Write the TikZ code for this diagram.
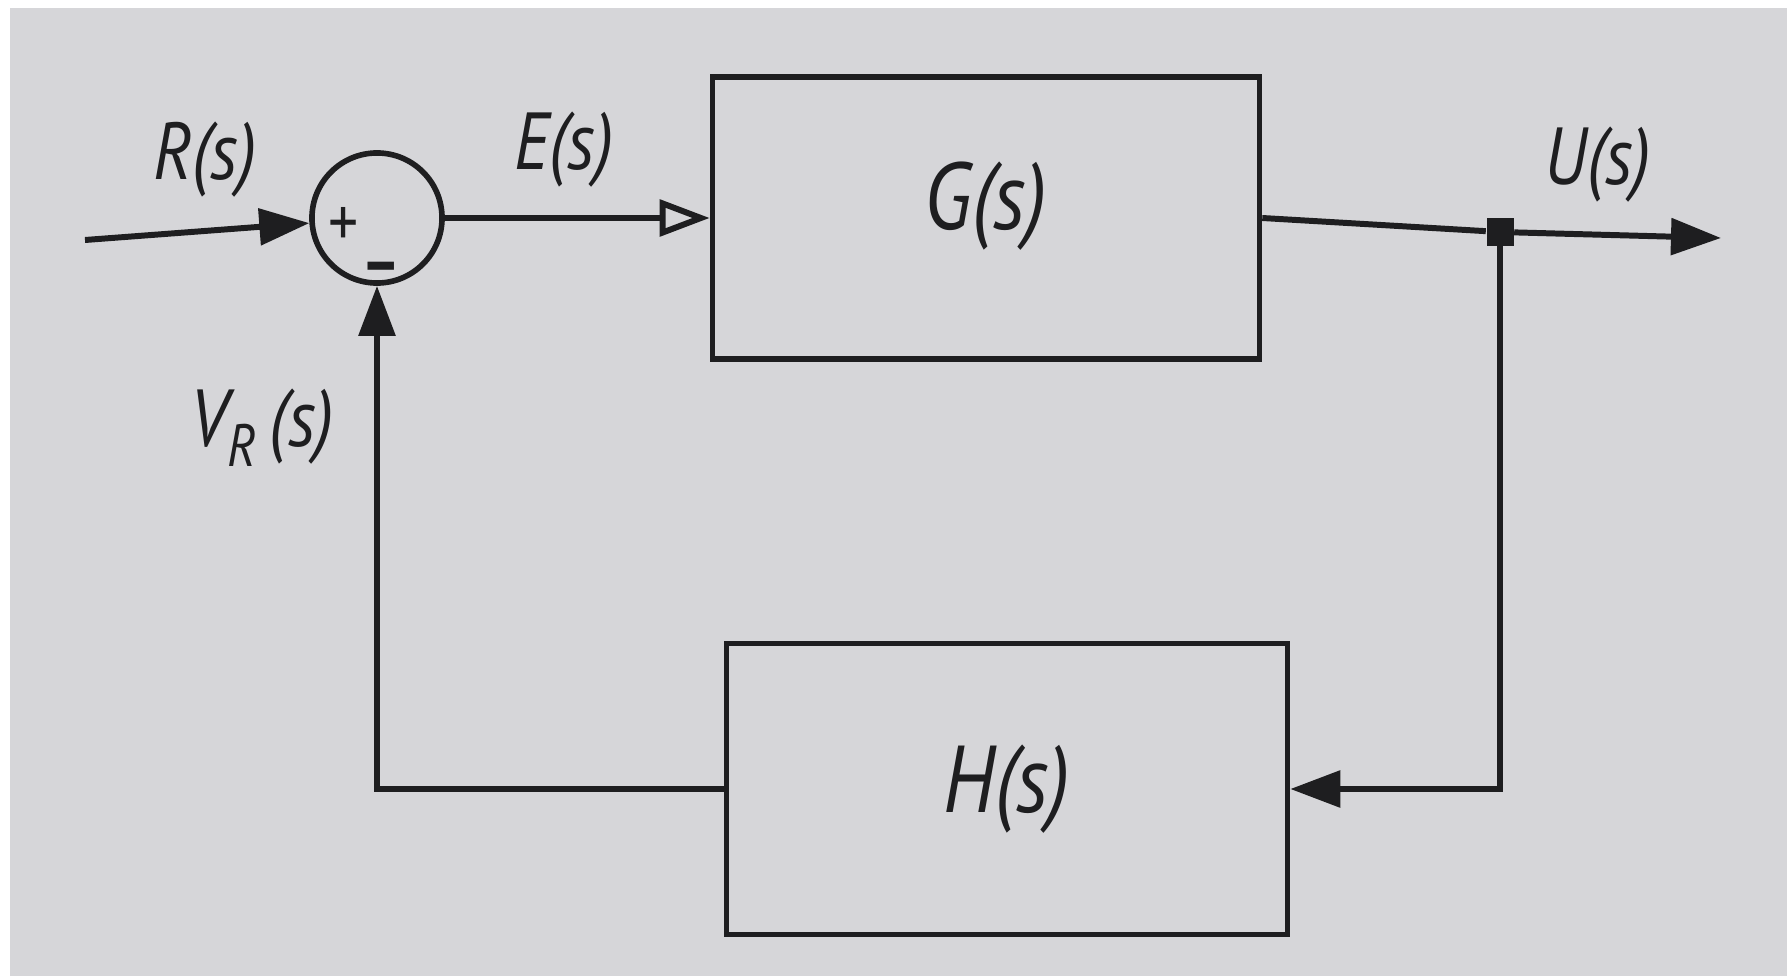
\documentclass[tikz,border=0pt]{standalone}
\usepackage{fontspec}
\usepackage{tikz}
\usetikzlibrary{shapes,arrows.meta,positioning}
\newfontfamily\lblfont{PT Sans}[FakeStretch=0.85]
\definecolor{paper}{RGB}{214,214,217}
\definecolor{ink}{RGB}{30,30,32}

\begin{document}
\begin{tikzpicture}[x=0.01cm, y=-0.01cm,
  block/.style={draw=ink, line width=1.5pt, minimum width=5.47cm, minimum height=2.82cm, text=ink, font=\lblfont\itshape\fontsize{27}{27}\selectfont},
  sumnode/.style={draw=ink, circle, line width=1.6pt, minimum size=1.3cm, inner sep=0pt},
  lbl/.style={text=ink, font=\lblfont\itshape\fontsize{23}{23}\selectfont},
  sign/.style={text=ink, inner sep=0pt, font=\lblfont\fontsize{20}{20}\selectfont},
  line/.style={draw=ink, line width=1.7pt},
  >={Triangle[length=0.5cm,width=0.36cm]}]
\fill[white] (0,0) rectangle (1787,976);
\fill[paper] (10,8) rectangle (1787,976);
\useasboundingbox (0,0) rectangle (1787,976);

% blocks
\node[sumnode] (sum) at (377,218) {};
\node[block] (g) at (986,218) {\raisebox{0.12cm}[\height][\depth]{G(s)}};
\node[block, minimum width=5.61cm, minimum height=2.91cm] (h) at (1007,789) {H(s)};
\node[fill=ink, minimum size=0.27cm, inner sep=0pt] (junc) at (1500,232) {};
\coordinate (in) at (85,240);
\coordinate (out) at (1721,238);
\coordinate (rc) at (1500,789);
\coordinate (lc) at (377,789);

% signs
\node[sign] (plus) at (344,227) {+};
\node[sign, font=\lblfont\bfseries\fontsize{20}{20}\selectfont] (minus) at (381,274) {–};

% labels
\node[lbl] (rlbl) at (205,160) {R(s)};
\node[lbl] (elbl) at (564,150) {E(s)};
\node[lbl] (ulbl) at (1598,165) {U(s)};
\node[lbl] (vlbl) at (262,428) {V\raisebox{-0.5ex}{\fontsize{17}{17}\selectfont R}\,(s)};

% connections
\draw[line,->] (in) -- (sum);
\draw[line,-{Triangle[open,length=0.5cm,width=0.36cm]}] (sum) -- (sum -| g.west);
\draw[line] (g.east) -- (junc);
\draw[line,->] (junc) -- (out);
\draw[line,->] (junc) -- (rc) -- (h.east);
\draw[line,->] (h.west) -- (lc) -- (sum);
\end{tikzpicture}
\end{document}
